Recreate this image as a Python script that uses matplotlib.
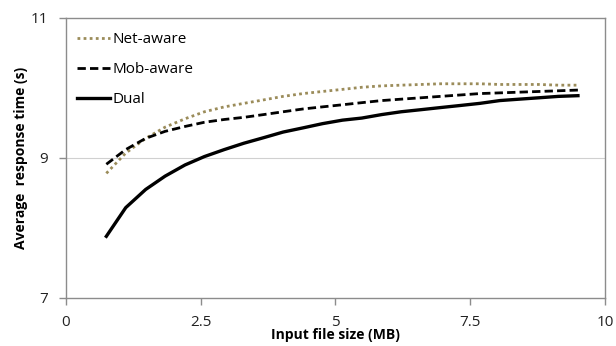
import matplotlib.pyplot as plt

plt.rcParams['font.family'] = ['Open Sans', 'DejaVu Sans']

# input file size (MB) and average response time (s) per scheme
size_mb = [0.75, 1.11, 1.48, 1.84, 2.21, 2.57, 2.94, 3.30, 3.67, 4.03, 4.40, 4.76, 5.13,
           5.49, 5.86, 6.22, 6.59, 6.95, 7.32, 7.68, 8.05, 8.41, 8.78, 9.14, 9.50]
net_aware = [8.78, 9.07, 9.28, 9.44, 9.56, 9.66, 9.73, 9.78, 9.83, 9.88, 9.92, 9.95, 9.98,
             10.01, 10.03, 10.04, 10.05, 10.06, 10.06, 10.06, 10.05, 10.05, 10.05, 10.04, 10.04]
mob_aware = [8.91, 9.12, 9.28, 9.38, 9.45, 9.51, 9.55, 9.58, 9.62, 9.66, 9.70, 9.73, 9.76,
             9.79, 9.82, 9.84, 9.86, 9.88, 9.90, 9.92, 9.93, 9.94, 9.95, 9.96, 9.97]
dual = [7.88, 8.29, 8.55, 8.74, 8.90, 9.02, 9.12, 9.21, 9.29, 9.37, 9.43, 9.49, 9.54,
        9.57, 9.62, 9.66, 9.69, 9.72, 9.75, 9.78, 9.82, 9.84, 9.86, 9.88, 9.89]

fig = plt.figure(figsize=(6.16, 3.46), dpi=100)
ax = fig.add_axes([0.107, 0.139, 0.875, 0.809])

ax.plot(size_mb, net_aware, color='#9b8c5a', lw=2.0, ls=(0, (1, 1.2)), label='Net-aware')
ax.plot(size_mb, mob_aware, color='black', lw=2.0, ls=(0, (3, 1.5)), label='Mob-aware')
ax.plot(size_mb, dual, color='black', lw=2.4, label='Dual')

ax.set_xlim(0, 10)
ax.set_ylim(7, 11)
ax.set_xticks([0, 2.5, 5, 7.5, 10])
ax.set_xticklabels(['0', '2.5', '5', '7.5', '10'])
ax.set_yticks([7, 9, 11])
ax.axhline(9, color='#d0d0d0', lw=0.8, zorder=0)

for s in ax.spines.values():
    s.set_color('#8c8c8c')
    s.set_linewidth(1.0)
ax.tick_params(axis='both', colors='#8c8c8c', labelcolor='#222222', labelsize=11,
               length=5, direction='out', width=1.0)
ax.tick_params(axis='x', pad=7)
ax.tick_params(axis='y', pad=8)

ax.set_ylabel('Average  response time (s)', fontsize=10, fontweight='bold')
ax.yaxis.set_label_coords(-0.07, 0.5)
ax.set_xlabel('Input file size (MB)', fontsize=10, fontweight='bold', labelpad=-1)

ax.legend(loc='upper left', frameon=False, fontsize=11, handlelength=2.2,
          handletextpad=0.15, labelspacing=1.0, borderaxespad=0.6,
          bbox_to_anchor=(-0.008, 1.005))

fig.savefig('out.png', dpi=100)
